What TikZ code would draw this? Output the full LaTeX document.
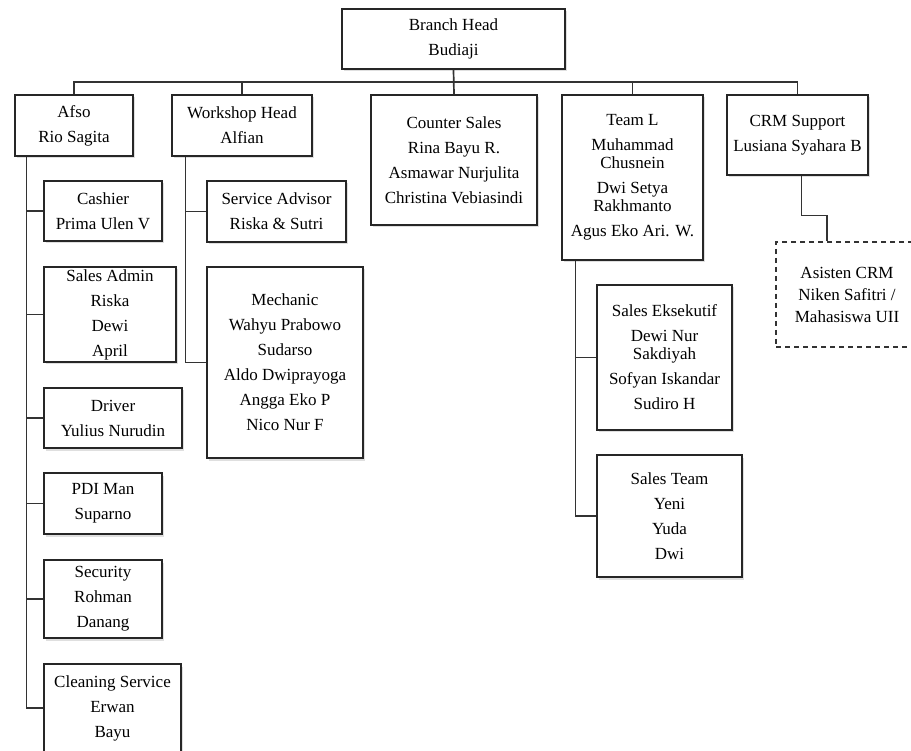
\documentclass[tikz,border=0pt]{standalone}
\usepackage{fontspec}
\setmainfont{Liberation Serif}
\usetikzlibrary{shadows}
\begin{document}
\begin{tikzpicture}[x=1pt,y=-1pt,
  box/.style={draw=black!85, line width=1.3pt, fill=white, inner sep=0pt, align=center,
    font=\fontsize{17}{25}\selectfont,
    drop shadow={opacity=0.25, shadow xshift=1.5pt, shadow yshift=-2.5pt}},
  dbox/.style={draw=black!80, line width=1.1pt, dash pattern=on 5pt off 4pt, fill=white, inner sep=0pt, align=center,
    font=\fontsize{17}{25}\selectfont},
  conn/.style={draw=black!80, line width=1.7pt}]
\useasboundingbox (0,0) rectangle (911,751);
% top level
\node[box, minimum width=223pt, minimum height=60pt] (bh) at (453.5,39) {Branch Head\\Budiaji};
\node[box, minimum width=118pt, minimum height=61pt] (afso) at (74,125.5) {Afso\\Rio Sagita};
\node[box, minimum width=140pt, minimum height=61pt] (ws) at (242,125.5) {Workshop Head\\Alfian};
\node[box, minimum width=166pt, minimum height=130pt] (cs) at (454,160) {Counter Sales\\Rina Bayu R.\\Asmawar Nurjulita\\Christina Vebiasindi};
\node[box, minimum width=141pt, minimum height=165pt] (tl) at (632.5,177.5) {Team L\\Muhammad\\[-7pt]Chusnein\\Dwi Setya\\[-7pt]Rakhmanto\\Agus Eko Ari. W.};
\node[box, minimum width=141pt, minimum height=80pt] (crm) at (797.5,135) {CRM Support\\Lusiana Syahara B};
% Afso children
\node[box, minimum width=118pt, minimum height=60pt] (cashier) at (103,211) {Cashier\\Prima Ulen V};
\node[box, minimum width=132pt, minimum height=95pt] (admin) at (110,314.5) {Sales Admin\\Riska\\Dewi\\April};
\node[box, minimum width=138pt, minimum height=60pt] (driver) at (113,418) {Driver\\Yulius Nurudin};
\node[box, minimum width=118pt, minimum height=61pt] (pdi) at (103,503.5) {PDI Man\\Suparno};
\node[box, minimum width=118pt, minimum height=78pt] (sec) at (103,599) {Security\\Rohman\\Danang};
\node[box, minimum width=137pt, minimum height=88pt] (clean) at (112.5,708) {Cleaning Service\\Erwan\\Bayu};
% Workshop children
\node[box, minimum width=139pt, minimum height=61pt] (sa) at (276.5,211.5) {Service Advisor\\Riska \& Sutri};
\node[box, minimum width=156pt, minimum height=191pt] (mech) at (285,362.5) {Mechanic\\Wahyu Prabowo\\Sudarso\\Aldo Dwiprayoga\\Angga Eko P\\Nico Nur F};
% Team L children
\node[box, minimum width=135pt, minimum height=145pt] (se) at (664.5,357.5) {Sales Eksekutif\\Dewi Nur\\[-7pt]Sakdiyah\\Sofyan Iskandar\\Sudiro H};
\node[box, minimum width=145pt, minimum height=122pt] (st) at (669.5,516) {Sales Team\\Yeni\\Yuda\\Dwi};
% CRM child
\node[dbox, minimum width=142pt, minimum height=105pt] (asst) at (847,294.5) {Asisten CRM\\[-3pt]Niken Safitri /\\[-3pt]Mahasiswa UII};
% connectors: top bus
\coordinate (bus) at (453,82);
\draw[conn] (bh.south) -- (cs.north);
\draw[conn] (afso.north) |- (bus) -| (crm.north);
\draw[conn] (ws.north) -- (ws.north |- bus);
\draw[conn] (tl.north) -- (tl.north |- bus);
% Afso spine
\coordinate (asp) at ([xshift=12pt]afso.south west);
\draw[conn] (asp) |- (clean.west);
\foreach \c in {cashier,admin,driver,pdi,sec}
  \draw[conn] (asp |- \c.west) -- (\c.west);
% Workshop spine
\coordinate (wsp) at ([xshift=14pt]ws.south west);
\draw[conn] (wsp) |- (mech.west);
\draw[conn] (wsp |- sa.west) -- (sa.west);
% Team L spine
\coordinate (tsp) at ([xshift=14pt]tl.south west);
\draw[conn] (tsp) |- (st.west);
\draw[conn] (tsp |- se.west) -- (se.west);
% CRM to assistant
\draw[conn] ([xshift=4pt]crm.south) -- ++(0,40) -| ([xshift=-20pt]asst.north);
\end{tikzpicture}
\end{document}
